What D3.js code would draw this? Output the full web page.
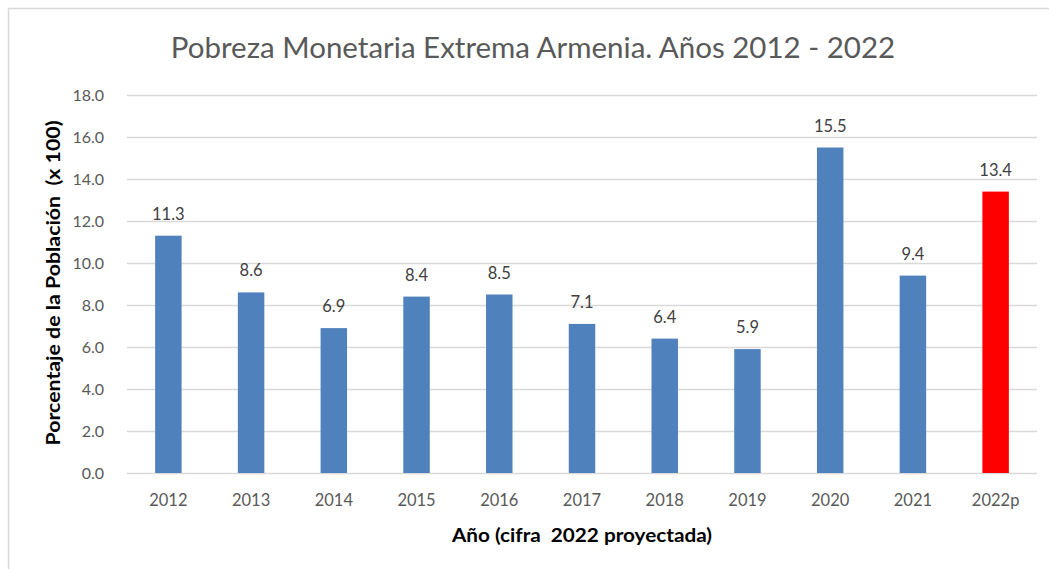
<!DOCTYPE html>
<html>
<head>
<meta charset="utf-8">
<script src="https://cdn.jsdelivr.net/npm/d3@7"></script>
<style>
  body { margin: 0; background: #fff; }
  text { font-family: Lato, "Open Sans", sans-serif; }
</style>
</head>
<body>
<script>
var width = 1049;
var height = 569;
var padding = { left: 127, top: 95, right: 12, bottom: 96 };

var years = ['2012', '2013', '2014', '2015', '2016', '2017', '2018', '2019', '2020', '2021', '2022p'];
var values = [11.3, 8.6, 6.9, 8.4, 8.5, 7.1, 6.4, 5.9, 15.5, 9.4, 13.4];
var yTicks = [0, 2, 4, 6, 8, 10, 12, 14, 16, 18];

var data = years.map(function (y, i) { return { year: y, value: values[i] }; });

var svg = d3.select('body')
            .append('svg')
            .attr('width', width)
            .attr('height', height);

// chart frame
svg.append('rect')
    .attr('x', 8.5)
    .attr('y', 8.5)
    .attr('width', width + 10)
    .attr('height', height + 10)
    .attr('fill', 'none')
    .attr('stroke', '#d9d9d9')
    .attr('stroke-width', 1.5);

var xScale = d3.scaleBand()
                .domain(years)
                .range([padding.left, width - padding.right])
                .paddingInner(0.68)
                .paddingOuter(0.34);

var yScale = d3.scaleLinear()
                .domain([0, 18])
                .range([height - padding.bottom, padding.top]);

// gridlines
svg.append('g')
    .selectAll('line')
    .data(yTicks)
    .enter()
    .append('line')
    .attr('x1', padding.left)
    .attr('x2', width - padding.right)
    .attr('y1', function (d) { return Math.round(yScale(d)) + 0.5; })
    .attr('y2', function (d) { return Math.round(yScale(d)) + 0.5; })
    .attr('stroke', '#d9d9d9')
    .attr('stroke-width', 1.5);

// y axis labels
var yAxis = svg.append('g')
    .attr('transform', `translate(${padding.left - 20},0)`)
    .call(d3.axisLeft(yScale).tickValues(yTicks).tickFormat(d3.format('.1f')).tickSize(0));
yAxis.select('.domain').remove();
yAxis.selectAll('text')
    .attr('fill', '#595959')
    .style('font-size', '16px');

// x axis labels
var xAxis = svg.append('g')
    .attr('transform', `translate(0,${height - padding.bottom + 18})`)
    .call(d3.axisBottom(xScale).tickSize(0));
xAxis.select('.domain').remove();
xAxis.selectAll('text')
    .attr('fill', '#595959')
    .style('font-size', '16.5px');

// bars
svg.selectAll('rect.bar')
    .data(data)
    .enter()
    .append('rect')
    .attr('class', 'bar')
    .attr('x', function (d) { return xScale(d.year); })
    .attr('width', xScale.bandwidth())
    .attr('y', function (d) { return yScale(d.value); })
    .attr('height', function (d) { return yScale(0) - yScale(d.value); })
    .attr('fill', function (d) { return d.year === '2022p' ? '#ff0000' : '#4f81bd'; });

// value labels
svg.selectAll('text.val')
    .data(data)
    .enter()
    .append('text')
    .attr('class', 'val')
    .attr('x', function (d) { return xScale(d.year) + xScale.bandwidth() / 2; })
    .attr('y', function (d) { return yScale(d.value) - 16; })
    .attr('text-anchor', 'middle')
    .attr('fill', '#404040')
    .style('font-size', '16.5px')
    .text(function (d) { return d.value.toFixed(1); });

// title
svg.append('text')
    .attr('x', 533)
    .attr('y', 58)
    .attr('text-anchor', 'middle')
    .attr('fill', '#595959')
    .style('font-size', '29.5px')
    .text('Pobreza Monetaria Extrema Armenia. Años 2012 - 2022');

// axis titles
svg.append('text')
    .attr('x', 582)
    .attr('y', 542)
    .attr('text-anchor', 'middle')
    .attr('fill', '#000')
    .style('font-size', '19px')
    .style('font-weight', 'bold')
    .style('white-space', 'pre')
    .attr('textLength', 260)
    .attr('lengthAdjust', 'spacingAndGlyphs')
    .text('Año (cifra  2022 proyectada)');

svg.append('text')
    .attr('transform', 'translate(60,283) rotate(-90)')
    .attr('text-anchor', 'middle')
    .attr('fill', '#000')
    .style('font-size', '19px')
    .style('font-weight', 'bold')
    .style('white-space', 'pre')
    .attr('textLength', 325)
    .attr('lengthAdjust', 'spacingAndGlyphs')
    .text('Porcentaje de la Población  (x 100)');
</script>
</body>
</html>
